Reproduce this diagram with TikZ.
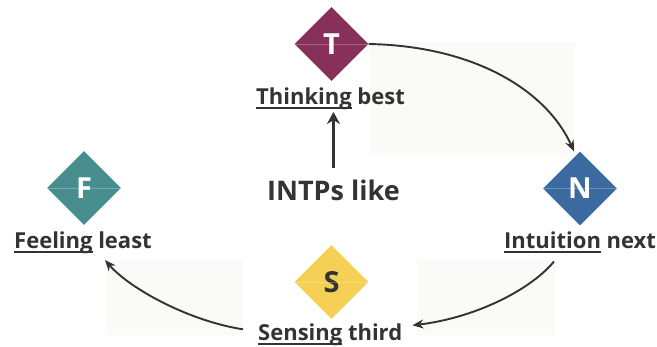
\documentclass[tikz,border=0pt]{standalone}
\usepackage{fontspec}
\setmainfont{Open Sans}
\usetikzlibrary{shapes.geometric,arrows.meta,calc}
\definecolor{ink}{HTML}{333333}
\definecolor{tcol}{HTML}{86305A}
\definecolor{fcol}{HTML}{488E8F}
\definecolor{ncol}{HTML}{3A6AA0}
\definecolor{scol}{HTML}{F6CF55}
\definecolor{haze}{HTML}{FAFAF8}
% first word underlined with a heavy rule
\newcommand\firstword[1]{\setbox0\hbox{#1}\rlap{\rule[-4.8pt]{\wd0}{2pt}}\box0\relax}
\tikzset{
  typebox/.style={diamond, aspect=1, minimum width=74pt, minimum height=74pt,
    inner sep=0pt, fill=#1, font=\fontsize{29}{29}\selectfont\bfseries},
  typelabel/.style={anchor=base west, inner sep=0pt, text=ink,
    font=\fontsize{22}{24}\selectfont\bfseries},
  flow/.style={draw=ink, line width=1.9pt, -{Stealth[length=11pt,width=9pt]}},
  lead/.style={draw=ink, line width=3pt, -{Stealth[length=12pt,width=13pt]}},
  backing/.style={fill=haze, draw=none}
}
\begin{document}
\begin{tikzpicture}[x=1pt,y=-1pt]
  \useasboundingbox (0,0) rectangle (657,346);
  % light panels behind the curved connectors
  \fill[backing] (369,42) rectangle (575,155);
  \fill[backing] (417,260) rectangle (555,335);
  \fill[backing] (105,260) rectangle (243,335);

  % function diamonds
  \node[typebox=tcol, text=white] (T) at (331.5,44) {T};
  \node[typebox=fcol, text=white] (F) at (84,188) {F};
  \node[typebox=ncol, text=white] (N) at (580,188.5) {N};
  \node[typebox=scol, text=ink]   (S) at (331.5,282) {S};
  \foreach \d in {T,F,N,S}
    \draw[white, opacity=0.25, line width=0.6pt] (\d.west) -- (\d.east);

  % captions
  \node[typelabel] (Tlab) at (256,104.5) {\firstword{Thinking} best};
  \node[typelabel] (Flab) at (14,248.5) {\firstword{Feeling} least};
  \node[typelabel] (Nlab) at (504,248.5) {\firstword{Intuition} next};
  \node[typelabel] (Slab) at (258,340) {\firstword{Sensing} third};
  \node[anchor=base west, inner sep=0pt, text=ink,
    font=\fontsize{27}{28}\selectfont\bfseries] (intp) at (267,200) {INTPs like};

  % connectors
  \draw[lead, shorten <=11pt, shorten >=2pt] (intp.north) -- (intp.north |- Tlab.south);
  \draw[flow] (T.east) .. controls +(107,2) and +(-27,-60) .. ($(N.north)+(-6,0)$);
  \draw[flow] ($(Nlab.south west)+(50,8)$) .. controls +(-25,30) and +(60,-7) .. ($(Slab.east)+(10,-9)$);
  \draw[flow] ($(Slab.west)+(-15,-5)$) .. controls +(-53,-8) and +(25,29) .. ($(Flab.south west)+(91,6)$);
\end{tikzpicture}
\end{document}
